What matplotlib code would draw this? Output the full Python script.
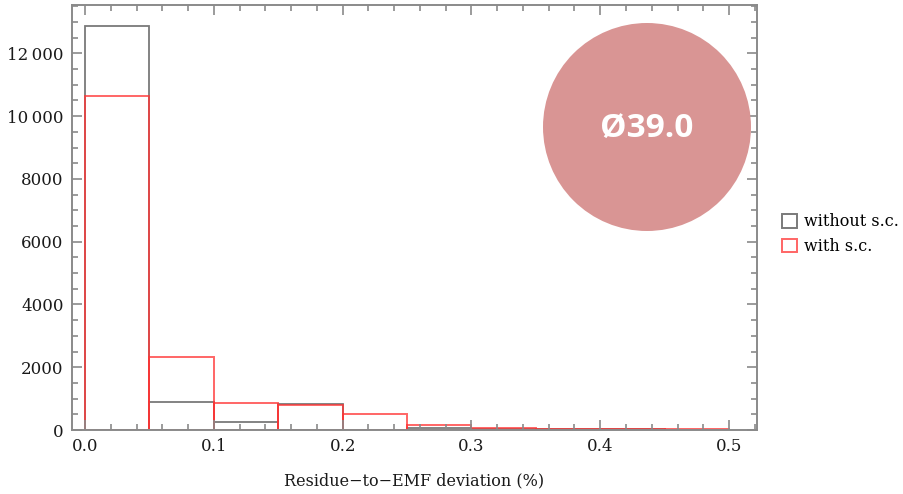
import matplotlib
matplotlib.use("Agg")
import matplotlib.pyplot as plt
from matplotlib.patches import Patch, Circle
from matplotlib.ticker import MultipleLocator, FixedLocator

# Histogram bins of the residue-to-EMF deviation (%)
bin_edges = [0.0, 0.05, 0.10, 0.15, 0.20, 0.25, 0.30, 0.35, 0.40, 0.45, 0.50]
counts_without_sc = [12880, 880, 250, 815, 0, 60, 30, 25, 20, 15]
counts_with_sc = [10640, 2320, 870, 810, 495, 160, 50, 45, 40, 35]

series_labels = ["without s.c.", "with s.c."]
x_ticks = [0.0, 0.1, 0.2, 0.3, 0.4, 0.5]
x_tick_labels = ["0.0", "0.1", "0.2", "0.3", "0.4", "0.5"]
y_ticks = [0, 2000, 4000, 6000, 8000, 10000, 12000]
y_tick_labels = ["0", "2000", "4000", "6000", "8000", "10\u2009000", "12\u2009000"]
badge_text = "\u00d839.0"

serif = ["DejaVu Serif"]
frame_color = "#8a8a8a"
gray_edge = (0.35, 0.35, 0.35, 0.8)
red_edge = (1.0, 0.2, 0.2, 0.75)

fig = plt.figure(figsize=(9.04, 4.94), dpi=100)
ax = fig.add_axes([72 / 904, 1 - 430 / 494, (757 - 72) / 904, (430 - 5) / 494])

lefts = bin_edges[:-1]
widths = [b - a for a, b in zip(bin_edges[:-1], bin_edges[1:])]
ax.bar(lefts, counts_without_sc, width=widths, align="edge", fill=False,
       edgecolor=gray_edge, linewidth=1.3)
ax.bar(lefts, counts_with_sc, width=widths, align="edge", fill=False,
       edgecolor=red_edge, linewidth=1.4)

ax.set_xlim(-0.0101, 0.5217)
ax.set_ylim(0, 13540)

ax.xaxis.set_major_locator(FixedLocator(x_ticks))
ax.set_xticklabels(x_tick_labels)
ax.xaxis.set_minor_locator(MultipleLocator(0.02))
ax.yaxis.set_major_locator(FixedLocator(y_ticks))
ax.set_yticklabels(y_tick_labels)
ax.yaxis.set_minor_locator(MultipleLocator(500))

ax.tick_params(which="both", direction="in", top=True, right=True,
               color=frame_color, width=1.2)
ax.tick_params(which="major", length=7, pad=6, labelsize=12, labelcolor="#1a1a1a")
ax.tick_params(which="minor", length=4)
for lbl in ax.get_xticklabels() + ax.get_yticklabels():
    lbl.set_family(serif)

for sp in ax.spines.values():
    sp.set_color(frame_color)
    sp.set_linewidth(1.4)

ax.set_xlabel("Residue\u2212to\u2212EMF deviation (%)", family=serif,
              fontsize=11.5, color="#1a1a1a", labelpad=12)

# Legend to the right of the frame
handles = [Patch(facecolor="none", edgecolor=gray_edge, linewidth=1.4),
           Patch(facecolor="none", edgecolor=red_edge, linewidth=1.4)]
fig.legend(handles, series_labels, loc="upper left",
           bbox_to_anchor=(776 / 904, 1 - 207 / 494), frameon=False,
           prop={"family": serif, "size": 11.5}, handlelength=0.9,
           handleheight=0.9, handletextpad=0.45, labelspacing=0.5,
           borderaxespad=0)

# Diameter badge
badge = Circle((647, 494 - 127), 104, transform=None, facecolor="#d99594",
               edgecolor="none", zorder=5)
fig.patches.append(badge)
fig.text(647 / 904, 1 - 128 / 494, badge_text, ha="center", va="center",
         color="white", fontsize=24, fontweight="bold",
         family=["Open Sans", "DejaVu Sans"], zorder=6)

fig.savefig("out.png", dpi=100)
